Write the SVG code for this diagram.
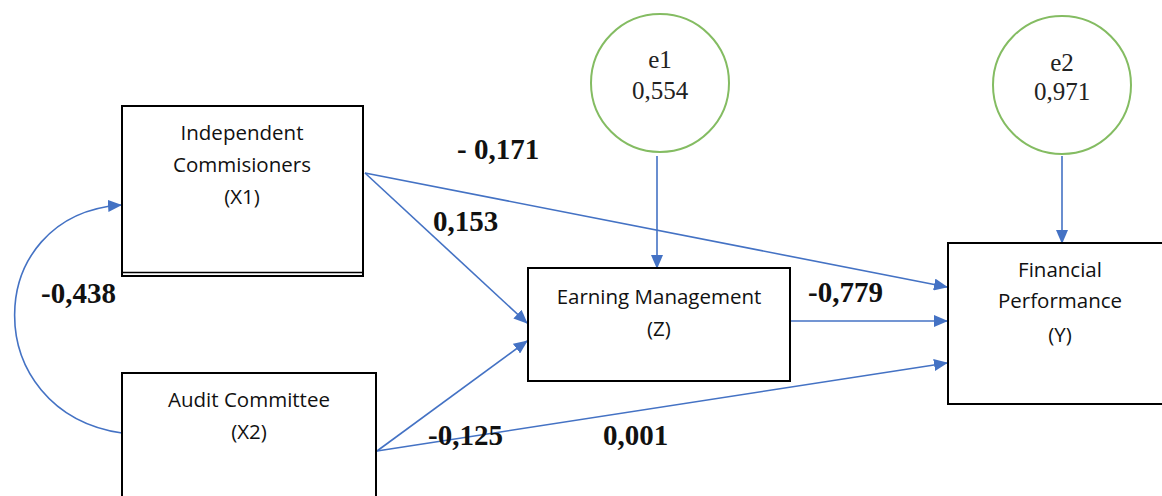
<svg xmlns="http://www.w3.org/2000/svg" width="1162" height="496" viewBox="0 0 1162 496">
<defs>
<style>
.box{fill:#fff;stroke:#000;stroke-width:2}
.err{fill:#fff;stroke:#84BC62;stroke-width:2}
.lbl{font-family:"Open Sans","Noto Sans",sans-serif;font-size:20.5px;fill:#111;text-anchor:middle}
.etx{font-family:"Liberation Serif",serif;font-size:25px;fill:#222;text-anchor:middle}
.coef{font-family:"Liberation Serif",serif;font-size:29px;font-weight:bold;fill:#111}
.con{fill:none;stroke:#4472C4;stroke-width:1.6}
</style>
<marker id="ah" markerUnits="userSpaceOnUse" markerWidth="14" markerHeight="12" viewBox="0 0 14 12" refX="13" refY="6" orient="auto">
<path d="M0,0 L14,6 L0,12 Z" fill="#4472C4"/>
</marker>
</defs>
<rect width="1162" height="496" fill="#fff"/>

<g id="connectors">
<path class="con" d="M122,433 C-22,412 -20,215 121,205" marker-end="url(#ah)"/>
<line class="con" x1="657" y1="156" x2="657" y2="268" marker-end="url(#ah)"/>
<line class="con" x1="1062" y1="156" x2="1062" y2="243" marker-end="url(#ah)"/>
<line class="con" x1="365" y1="173" x2="527" y2="323" marker-end="url(#ah)"/>
<line class="con" x1="365" y1="173" x2="947" y2="287" marker-end="url(#ah)"/>
<line class="con" x1="790" y1="321" x2="947" y2="321" marker-end="url(#ah)"/>
<line class="con" x1="377" y1="451" x2="527" y2="341" marker-end="url(#ah)"/>
<line class="con" x1="377" y1="451" x2="947" y2="363" marker-end="url(#ah)"/>
</g>

<g id="node-x1">
<rect class="box" x="122" y="106" width="241" height="170"/>
<line x1="122" y1="272.5" x2="363" y2="272.5" stroke="#000" stroke-width="1.5"/>
<text class="lbl" x="242" y="140">Independent</text>
<text class="lbl" x="242" y="172">Commisioners</text>
<text class="lbl" x="242" y="204">(X1)</text>
</g>

<g id="node-x2">
<rect class="box" x="122" y="373" width="254" height="140"/>
<text class="lbl" x="249" y="407">Audit Committee</text>
<text class="lbl" x="249" y="439">(X2)</text>
</g>

<g id="node-z">
<rect class="box" x="528" y="268" width="262" height="113"/>
<text class="lbl" x="659" y="304">Earning Management</text>
<text class="lbl" x="659" y="336">(Z)</text>
</g>

<g id="node-y">
<rect class="box" x="948" y="243" width="230" height="161"/>
<text class="lbl" x="1060" y="277">Financial</text>
<text class="lbl" x="1060" y="308">Performance</text>
<text class="lbl" x="1060" y="342">(Y)</text>
</g>

<g id="node-e1">
<circle class="err" cx="660" cy="83" r="69"/>
<text class="etx" x="660" y="68">e1</text>
<text class="etx" x="660" y="99">0,554</text>
</g>

<g id="node-e2">
<circle class="err" cx="1062" cy="85" r="69"/>
<text class="etx" x="1062" y="71">e2</text>
<text class="etx" x="1062" y="100">0,971</text>
</g>

<g id="coefficients">
<text class="coef" x="457" y="159">- 0,171</text>
<text class="coef" x="433" y="231">0,153</text>
<text class="coef" x="41" y="303">-0,438</text>
<text class="coef" x="808" y="302">-0,779</text>
<text class="coef" x="428" y="445">-0,125</text>
<text class="coef" x="603" y="445">0,001</text>
</g>
</svg>
